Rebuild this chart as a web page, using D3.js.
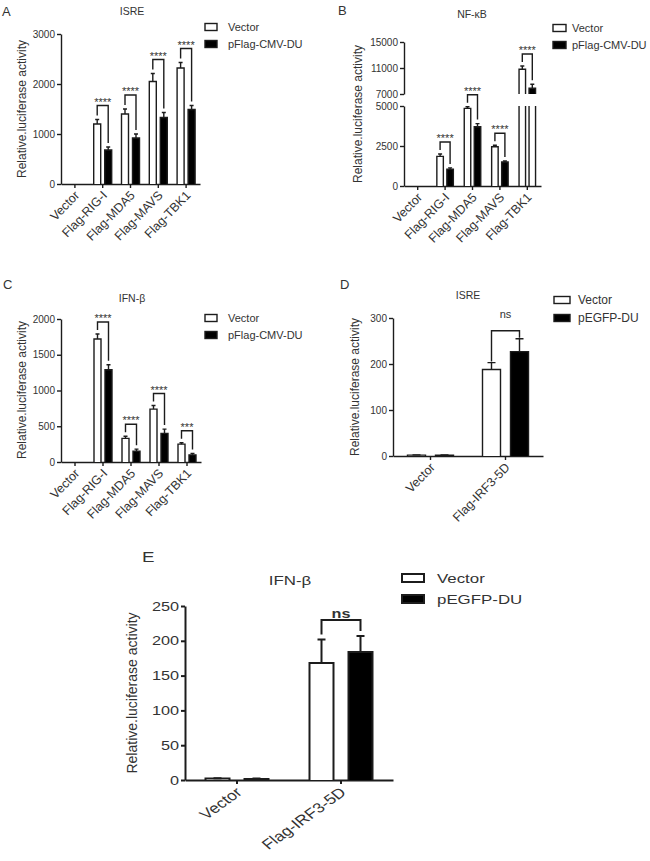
<!DOCTYPE html>
<html>
<head>
<meta charset="utf-8">
<script src="https://cdn.jsdelivr.net/npm/d3@7"></script>
<style>
  body { margin: 0; background: #fff; }
  svg { display: block; }
  text { font-family: "Liberation Sans", Arial, sans-serif; fill: #333; }
</style>
</head>
<body>
<svg id="chart" width="650" height="861"></svg>
<script>
// ---- data ----
const catsRlr = ["Vector", "Flag-RIG-I", "Flag-MDA5", "Flag-MAVS", "Flag-TBK1"];
const catsIrf = ["Vector", "Flag-IRF3-5D"];

// A: ISRE
const isreVector = [0, 1200, 1400, 2050, 2320];
const isreVectorSd = [0, 90, 100, 160, 110];
const isreDu = [0, 680, 920, 1330, 1490];
const isreDuSd = [0, 60, 80, 100, 80];
const isreSig = ["", "****", "****", "****", "****"];
const isreTicks = [0, 1000, 2000, 3000];

// B: NF-kB (broken axis)
const nfkbVector = [0, 1850, 4850, 2450, 10800];
const nfkbVectorSd = [0, 150, 100, 100, 500];
const nfkbDu = [0, 1050, 3700, 1500, 7900];
const nfkbDuSd = [0, 80, 200, 60, 600];
const nfkbSig = ["", "****", "****", "****", "****"];
const nfkbTicksLow = [0, 2500, 5000];
const nfkbTicksHigh = [7000, 11000, 15000];

// C: IFN-b
const ifnVector = [0, 1720, 330, 740, 250];
const ifnVectorSd = [0, 70, 30, 50, 20];
const ifnDu = [0, 1290, 150, 400, 100];
const ifnDuSd = [0, 70, 30, 60, 20];
const ifnSig = ["", "****", "****", "****", "***"];
const ifnTicks = [0, 500, 1000, 1500, 2000];

// D: ISRE with IRF3-5D
const isre5dVector = [2, 188];
const isre5dVectorSd = [0.5, 15];
const isre5dDu = [2, 227];
const isre5dDuSd = [0.5, 28];
const isre5dSig = ["", "ns"];
const isre5dTicks = [0, 100, 200, 300];

// E: IFN-b with IRF3-5D
const ifn5dVector = [2, 168];
const ifn5dVectorSd = [0.5, 34];
const ifn5dDu = [1.5, 184];
const ifn5dDuSd = [0.5, 23];
const ifn5dSig = ["", "ns"];
const ifn5dTicks = [0, 50, 100, 150, 200, 250];

const legendDu = ["Vector", "pFlag-CMV-DU"];
const legendEgfp = ["Vector", "pEGFP-DU"];
const yLabel = "Relative.luciferase activity";

const svg = d3.select("#chart");
const ink = "#1c1c1c";

const smallFs = { tick: 10, xlab: 12.5, title: 10.5, legend: 11, ylab: 12, letter: 13, sig: 11 };

const panels = [
  {
    letter: "A", letterXY: [2, 16], title: "ISRE", titleXY: [132, 15],
    cats: catsRlr, vec: isreVector, vecSd: isreVectorSd, du: isreDu, duSd: isreDuSd, sig: isreSig,
    legendLabels: legendDu, xRange: [61, 200],
    segs: [{ domain: [0, 3000], range: [184, 34], ticks: isreTicks }],
    barW: 7, gap: 4, capW: 4, brGap: 14, legGap: 4, sigDy: 0, sigBold: false,
    legend: { x: 205, y: [27, 44], w: 12, h: 7, tx: 228 }, ylab: [22, 109],
    fs: smallFs, sx: 1, rot: -46, sw: 1.4, xlabOff: 9
  },
  {
    letter: "B", letterXY: [338, 15], title: "NF-\u03baB", titleXY: [472, 18],
    cats: catsRlr, vec: nfkbVector, vecSd: nfkbVectorSd, du: nfkbDu, duSd: nfkbDuSd, sig: nfkbSig,
    legendLabels: legendDu, xRange: [404, 541],
    segs: [
      { domain: [0, 5000], range: [186, 106], ticks: nfkbTicksLow },
      { domain: [7000, 15000], range: [94, 42], ticks: nfkbTicksHigh }
    ],
    barW: 6.5, gap: 3.5, capW: 4, brGap: 12, legGap: 4, sigDy: 0, sigBold: false,
    legend: { x: 553, y: [28, 45], w: 13, h: 7, tx: 572 }, ylab: [358, 114],
    fs: smallFs, sx: 1, rot: -46, sw: 1.4, xlabOff: 9
  },
  {
    letter: "C", letterXY: [3, 289], title: "IFN-\u03b2", titleXY: [132, 302],
    cats: catsRlr, vec: ifnVector, vecSd: ifnVectorSd, du: ifnDu, duSd: ifnDuSd, sig: ifnSig,
    legendLabels: legendDu, xRange: [61, 201],
    segs: [{ domain: [0, 2000], range: [462, 319], ticks: ifnTicks }],
    barW: 7, gap: 4, capW: 4, brGap: 12, legGap: 4, sigDy: 0, sigBold: false,
    legend: { x: 205, y: [318, 335], w: 12, h: 7, tx: 228 }, ylab: [22, 390],
    fs: smallFs, sx: 1, rot: -46, sw: 1.4, xlabOff: 9
  },
  {
    letter: "D", letterXY: [340, 289], title: "ISRE", titleXY: [468, 299],
    cats: catsIrf, vec: isre5dVector, vecSd: isre5dVectorSd, du: isre5dDu, duSd: isre5dDuSd, sig: isre5dSig,
    legendLabels: legendEgfp, xRange: [393, 543],
    segs: [{ domain: [0, 300], range: [456, 318], ticks: isre5dTicks }],
    barW: 18, gap: 10, capW: 8, brGap: 8, legGap: 1, sigDy: 13, sigBold: false,
    legend: { x: 554, y: [300, 318], w: 16, h: 7, tx: 578 }, ylab: [355, 387],
    fs: Object.assign({}, smallFs, { legend: 12, sig: 11 }), sx: 1, rot: -46, sw: 1.4, xlabOff: 9
  },
  {
    letter: "E", letterXY: [142, 562], title: "IFN-\u03b2", titleXY: [290, 585],
    cats: catsIrf, vec: ifn5dVector, vecSd: ifn5dVectorSd, du: ifn5dDu, duSd: ifn5dDuSd, sig: ifn5dSig,
    legendLabels: legendEgfp, xRange: [185, 393],
    segs: [{ domain: [0, 250], range: [780, 606], ticks: ifn5dTicks }],
    barW: 24, gap: 15, capW: 8, brGap: 16, legGap: 5, sigDy: 2, sigBold: true,
    legend: { x: 402, y: [578, 599], w: 22, h: 8, tx: 437 }, ylab: [132, 693],
    fs: { tick: 13, xlab: 14, title: 13.5, legend: 13.5, ylab: 14, letter: 15, sig: 13 },
    sx: 1.25, rot: -42, sw: 2, xlabOff: 10
  }
];

function yOf(p, v) {
  for (let i = 0; i < p.segs.length; i++) {
    const s = p.segs[i];
    if (v <= s.domain[1] || i === p.segs.length - 1) {
      return d3.scaleLinear().domain(s.domain).range(s.range)(Math.max(v, s.domain[0]));
    }
  }
}

function addText(g, x, y, str, size, sx, opts = {}) {
  let tf = `translate(${x},${y}) scale(${sx},1)`;
  if (opts.rotate) tf += ` rotate(${opts.rotate})`;
  return g.append("text")
    .attr("transform", tf)
    .attr("text-anchor", opts.anchor || "start")
    .attr("dy", opts.dy || null)
    .attr("font-weight", opts.bold ? "bold" : null)
    .style("font-size", size + "px")
    .text(str);
}

function drawPanel(p) {
  const g = svg.append("g");
  const x = d3.scaleBand().domain(p.cats).range(p.xRange);
  const axisY = p.segs[0].range[0];
  const center = c => x(c) + x.bandwidth() / 2;

  // y axis, one piece per segment
  p.segs.forEach(s => {
    const ys = d3.scaleLinear().domain(s.domain).range(s.range);
    const ax = g.append("g")
      .attr("transform", `translate(${p.xRange[0]},0)`)
      .call(d3.axisLeft(ys).tickValues(s.ticks).tickSize(4).tickSizeOuter(0).tickFormat(d3.format("d")));
    ax.select(".domain").attr("stroke", ink).attr("stroke-width", p.sw);
    ax.selectAll(".tick line").attr("stroke", ink).attr("stroke-width", p.sw);
    ax.selectAll(".tick text")
      .attr("x", null)
      .attr("transform", `translate(-6,0) scale(${p.sx},1)`)
      .style("font-size", p.fs.tick + "px")
      .style("font-family", null)
      .attr("fill", "#333");
  });

  // x axis
  const xa = g.append("g")
    .attr("transform", `translate(0,${axisY})`)
    .call(d3.axisBottom(x).tickSize(4).tickSizeOuter(0));
  xa.select(".domain").attr("stroke", ink).attr("stroke-width", p.sw);
  xa.selectAll(".tick line").attr("stroke", ink).attr("stroke-width", p.sw);
  xa.selectAll(".tick text").remove();
  xa.selectAll(".tick").each(function(d) {
    addText(d3.select(this), 2, p.xlabOff, d, p.fs.xlab, p.sx, { rotate: p.rot, anchor: "end", dy: "0.35em" });
  });

  // bars, built as pieces so the broken axis can cut them
  const series = [
    { mean: p.vec, sd: p.vecSd, fill: "#fff", off: -p.gap / 2 - p.barW },
    { mean: p.du, sd: p.duSd, fill: "#000", off: p.gap / 2 }
  ];
  const pieces = [];
  const errs = [];
  series.forEach(s => {
    p.cats.forEach((c, i) => {
      const bx = center(c) + s.off;
      const v = s.mean[i];
      if (v <= 0) return;
      p.segs.forEach((seg, k) => {
        if (k > 0 && v <= seg.domain[0]) return;
        const lo = seg.domain[0];
        const hi = Math.min(v, seg.domain[1]);
        const ys = d3.scaleLinear().domain(seg.domain).range(seg.range);
        pieces.push({ x: bx, y0: ys(lo), y1: ys(hi), top: v <= seg.domain[1], fill: s.fill });
      });
      errs.push({ cx: bx + p.barW / 2, yb: yOf(p, v), yt: yOf(p, v + s.sd[i]) });
    });
  });

  g.selectAll(".bar").data(pieces).join("path")
    .attr("class", "bar")
    .attr("d", d => d.top
      ? `M${d.x},${d.y0}V${d.y1}H${d.x + p.barW}V${d.y0}`
      : `M${d.x},${d.y0}V${d.y1}M${d.x + p.barW},${d.y1}V${d.y0}`)
    .attr("fill", d => d.fill)
    .attr("stroke", ink)
    .attr("stroke-width", p.sw);

  g.selectAll(".err").data(errs).join("path")
    .attr("class", "err")
    .attr("d", d => `M${d.cx},${d.yb}V${d.yt}M${d.cx - p.capW / 2},${d.yt}H${d.cx + p.capW / 2}`)
    .attr("fill", "none")
    .attr("stroke", ink)
    .attr("stroke-width", p.sw);

  // significance brackets
  const brackets = p.cats.map((c, i) => {
    if (!p.sig[i]) return null;
    const xw = center(c) - p.gap / 2 - p.barW / 2;
    const xb = center(c) + p.gap / 2 + p.barW / 2;
    const ew = yOf(p, p.vec[i] + p.vecSd[i]);
    const eb = yOf(p, p.du[i] + p.duSd[i]);
    const yb = Math.min(ew, eb) - p.brGap;
    return { xw, xb, ew, eb, yb, label: p.sig[i] };
  }).filter(d => d);

  g.selectAll(".bracket").data(brackets).join("path")
    .attr("class", "bracket")
    .attr("d", d => `M${d.xw},${d.ew - p.legGap}V${d.yb}H${d.xb}V${d.eb - p.legGap}`)
    .attr("fill", "none")
    .attr("stroke", ink)
    .attr("stroke-width", p.sw);

  brackets.forEach(d => {
    addText(g, (d.xw + d.xb) / 2, d.yb - p.sigDy, d.label, p.fs.sig, p.sx, { anchor: "middle", bold: p.sigBold });
  });

  // titles and labels
  addText(g, p.letterXY[0], p.letterXY[1], p.letter, p.fs.letter, p.sx);
  addText(g, p.titleXY[0], p.titleXY[1], p.title, p.fs.title, p.sx, { anchor: "middle" });
  addText(g, p.ylab[0], p.ylab[1], yLabel, p.fs.ylab, 1, { rotate: -90, anchor: "middle", dy: "0.35em" });

  // legend
  const L = p.legend;
  ["#fff", "#000"].forEach((f, i) => {
    g.append("rect")
      .attr("x", L.x).attr("y", L.y[i] - L.h / 2)
      .attr("width", L.w).attr("height", L.h)
      .attr("fill", f).attr("stroke", ink).attr("stroke-width", p.sw);
    addText(g, L.tx, L.y[i], p.legendLabels[i], p.fs.legend, p.sx, { dy: "0.35em" });
  });
}

panels.forEach(drawPanel);
</script>
</body>
</html>
